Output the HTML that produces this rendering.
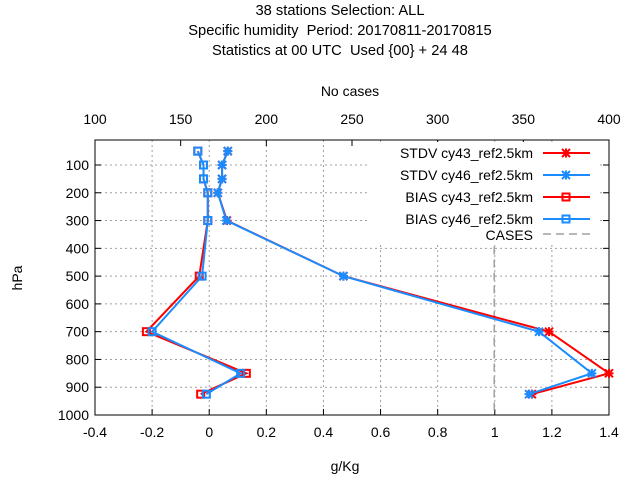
<!DOCTYPE html>
<html><head><meta charset="utf-8"><style>
body{margin:0;background:#fff;}
svg text{font-family:"Liberation Sans",sans-serif;font-size:14px;fill:#000;}
svg text.tt{font-size:14.7px;}
</style></head><body>
<svg id="chart" width="640" height="480" xmlns="http://www.w3.org/2000/svg">
<g>
<text class="tt" x="340" y="15" text-anchor="middle">38 stations Selection: ALL</text>
<text class="tt" x="340" y="35" text-anchor="middle" xml:space="preserve">Specific humidity  Period: 20170811-20170815</text>
<text class="tt" x="340" y="55" text-anchor="middle" xml:space="preserve">Statistics at 00 UTC  Used {00} + 24 48</text>
</g>
<text x="350" y="96" text-anchor="middle">No cases</text>
<text x="345" y="471" text-anchor="middle">g/Kg</text>
<text x="22" y="278" text-anchor="middle" transform="rotate(-90 22 278)">hPa</text>
<g id="grid"></g>
<g id="axes"></g>
<g id="series"></g>
<g id="legend"></g>
</svg>
<script>
const levels=[50,100,150,200,300,500,700,850,925];
const stdv43=[0.065,0.045,0.045,0.03,0.062,0.47,1.19,1.40,1.13];
const stdv46=[0.065,0.045,0.045,0.03,0.06,0.47,1.155,1.34,1.12];
const bias43=[-0.04,-0.02,-0.02,-0.005,-0.005,-0.035,-0.22,0.13,-0.03];
const bias46=[-0.04,-0.02,-0.02,-0.005,-0.005,-0.025,-0.20,0.11,-0.01];
const caseLevels=[300,400,500,600,700,800,850,925,1000];
const cases=[333,333,333,333,333,333,333,333,333];
const xTicks=[-0.4,-0.2,0,0.2,0.4,0.6,0.8,1,1.2,1.4];
const topTicks=[100,150,200,250,300,350,400];
const yTicks=[100,200,300,400,500,600,700,800,900,1000];

const L=95,R=609,T=140,B=415;
const NS="http://www.w3.org/2000/svg";
const xs=v=>L+(v+0.4)/1.8*(R-L);
const xt=v=>L+(v-100)/300*(R-L);
const ys=p=>T+(p-10)/990*(B-T);
function el(tag,attrs,parent){const e=document.createElementNS(NS,tag);for(const k in attrs)e.setAttribute(k,attrs[k]);parent.appendChild(e);return e;}
const grid=document.getElementById('grid'),axes=document.getElementById('axes'),series=document.getElementById('series'),legend=document.getElementById('legend');
xTicks.forEach(v=>{const x=xs(v);
 const g=el('line',{x1:x,x2:x,y1:T,y2:B,stroke:'#a0a0a0','stroke-dasharray':'2,3'},grid);
 
 el('line',{x1:x,x2:x,y1:B,y2:B-6,stroke:'#000'},axes);
 const t=el('text',{x:x,y:B+22,'text-anchor':'middle'},axes);t.textContent=(Math.round(v*10)/10).toString();
 });
topTicks.forEach(v=>{const x=xt(v);
 el('line',{x1:x,x2:x,y1:T,y2:T+6,stroke:'#000'},axes);
 const t=el('text',{x:x,y:T-16,'text-anchor':'middle'},axes);t.textContent=v;
 });
yTicks.forEach(v=>{const y=ys(v);
 const g=el('line',{x1:L,x2:R,y1:y,y2:y,stroke:'#a0a0a0','stroke-dasharray':'2,3'},grid);
 
 el('line',{x1:L,x2:L+6,y1:y,y2:y,stroke:'#000'},axes);el('line',{x1:R,x2:R-6,y1:y,y2:y,stroke:'#000'},axes);
 const t=el('text',{x:L-6,y:y+5,'text-anchor':'end'},axes);t.textContent=v;
 });
el('rect',{x:L,y:T,width:R-L,height:B-T,fill:'none',stroke:'#000'},axes);

const cp=el('polyline',{points:caseLevels.map((p,i)=>xt(cases[i])+','+ys(p)).join(' '),fill:'none',stroke:'#a0a0a0','stroke-width':1.5,'stroke-dasharray':'8,5'},series);


function marker(x,y,type,c,parent){
 if(type==='star'){
  el('path',{d:`M${x-4},${y-4}L${x+4},${y+4}M${x-4},${y+4}L${x+4},${y-4}M${x-4.5},${y}L${x+4.5},${y}M${x},${y-4.5}L${x},${y+4.5}`,stroke:c,'stroke-width':2,fill:'none'},parent);
 } else {
  el('rect',{x:x-3.5,y:y-3.5,width:7,height:7,fill:'none',stroke:c,'stroke-width':2},parent);
 }
}
const defs=[
 {vals:stdv43,c:'#ff0000',m:'star',name:'stdv-cy43',label:'STDV cy43_ref2.5km'},
 {vals:stdv46,c:'#1a8cff',m:'star',name:'stdv-cy46',label:'STDV cy46_ref2.5km'},
 {vals:bias43,c:'#ff0000',m:'sq',name:'bias-cy43',label:'BIAS cy43_ref2.5km'},
 {vals:bias46,c:'#1a8cff',m:'sq',name:'bias-cy46',label:'BIAS cy46_ref2.5km'}];
el('rect',{x:370,y:142,width:230,height:102,fill:'#fff'},legend);
defs.forEach((d,k)=>{
 const g=el('g',{},series);
 
 el('polyline',{points:levels.map((p,i)=>xs(d.vals[i])+','+ys(p)).join(' '),fill:'none',stroke:d.c,'stroke-width':2},g);
 levels.forEach((p,i)=>marker(xs(d.vals[i]),ys(p),d.m,d.c,g));
 const ly=153+k*22;
 const lg=el('g',{},legend);
 
 const t=el('text',{x:533,y:ly+5,'text-anchor':'end'},lg);t.textContent=d.label;
 el('line',{x1:543,x2:590,y1:ly,y2:ly,stroke:d.c,'stroke-width':2},lg);
 marker(566,ly,d.m,d.c,lg);
});
const lg=el('g',{},legend);

const t=el('text',{x:533,y:240,'text-anchor':'end'},lg);t.textContent='CASES';
el('line',{x1:543,x2:590,y1:234,y2:234,stroke:'#a0a0a0','stroke-width':1.5,'stroke-dasharray':'8,5'},lg);
</script>
</body></html>
